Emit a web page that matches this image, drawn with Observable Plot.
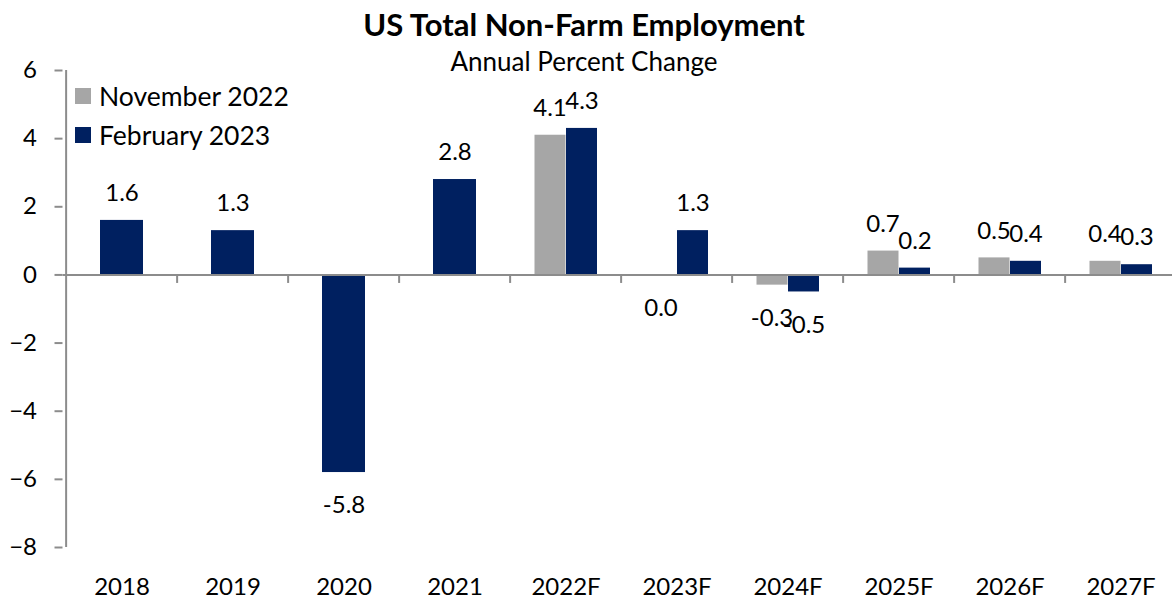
<!DOCTYPE html>
<html>
<head>
<meta charset="utf-8">
<script src="https://cdn.jsdelivr.net/npm/d3@7"></script>
<script src="https://cdn.jsdelivr.net/npm/@observablehq/plot@0.6"></script>
<style>
  html, body { margin: 0; padding: 0; background: #fff; overflow: hidden; }
  #wrap { position: relative; width: 1172px; height: 599px; font-family: Lato, "Open Sans", sans-serif; color: #000; }
  #title { position: absolute; left: 0; width: 1168px; top: 5px; text-align: center; font-weight: bold; font-size: 31px; line-height: 38px; }
  #subtitle { position: absolute; left: 0; width: 1168px; top: 45px; text-align: center; font-size: 26px; line-height: 32px; }
  #legend { position: absolute; left: 75px; top: 76px; font-size: 26.5px; }
  .item { display: flex; align-items: center; height: 39px; }
  .sw { width: 16px; height: 16px; margin-right: 8px; }
  #chart { position: absolute; left: 0; top: 0; }
</style>
</head>
<body>
<div id="wrap">
  <div id="chart"></div>
  <div id="title"></div>
  <div id="subtitle"></div>
  <div id="legend"></div>
</div>
<script>
const years = ["2018","2019","2020","2021","2022F","2023F","2024F","2025F","2026F","2027F"];
const nov2022 = [null, null, null, null, 4.1, 0.0, -0.3, 0.7, 0.5, 0.4];
const feb2023 = [1.6, 1.3, -5.8, 2.8, 4.3, 1.3, -0.5, 0.2, 0.4, 0.3];
const yTicks = [-8, -6, -4, -2, 0, 2, 4, 6];
const seriesNames = ["November 2022", "February 2023"];
const seriesColors = ["#A6A6A6", "#002060"];
const titleText = "US Total Non-Farm Employment";
const subtitleText = "Annual Percent Change";

document.getElementById("title").textContent = titleText;
document.getElementById("subtitle").textContent = subtitleText;
const legend = document.getElementById("legend");
seriesNames.forEach((n, i) => {
  const it = document.createElement("div"); it.className = "item";
  const sw = document.createElement("div"); sw.className = "sw"; sw.style.background = seriesColors[i];
  const tx = document.createElement("span"); tx.textContent = n;
  it.appendChild(sw); it.appendChild(tx); legend.appendChild(it);
});

const W = 1172, H = 599;
const xRange = [62.5, 1180];
const step = (xRange[1] - xRange[0]) / years.length;
const axisGray = "#8C8C8C";

const hist = years.map((y, i) => ({year: y, value: feb2023[i], nov: nov2022[i]})).filter(d => d.nov == null);
const novRows = years.map((y, i) => ({year: y, value: nov2022[i]})).filter(d => d.value != null);
const febRows = years.map((y, i) => ({year: y, value: feb2023[i], nov: nov2022[i]})).filter(d => d.nov != null);
const fmt = d => d.value.toFixed(1);

const labelMarks = (data, dx) => [
  Plot.text(data.filter(d => d.value > 0), {x: "year", y: "value", text: fmt, dx, dy: -27, fontSize: 24}),
  Plot.text(data.filter(d => d.value <= 0), {x: "year", y: "value", text: fmt, dx, dy: 33, fontSize: 24})
];

const chart = Plot.plot({
  width: W,
  height: H,
  marginLeft: 62.5,
  marginRight: 0,
  marginTop: 70,
  marginBottom: 52,
  style: {fontFamily: "Lato, 'Open Sans', sans-serif", fontSize: "24px", color: "#000", background: "transparent"},
  x: {domain: years, range: xRange, padding: 0, label: null},
  y: {domain: [-8, 6], label: null},
  marks: [
    Plot.barY(hist, {x: "year", y: "value", fill: seriesColors[1], insetLeft: 34, insetRight: 34}),
    Plot.barY(novRows, {x: "year", y: "value", fill: seriesColors[0], insetLeft: 24.5, insetRight: 55.5}),
    Plot.barY(febRows, {x: "year", y: "value", fill: seriesColors[1], insetLeft: 56, insetRight: 24}),
    Plot.ruleY([0], {stroke: axisGray, strokeWidth: 2}),
    Plot.ruleX(years.slice(1), {x: d => d, dx: -step / 2, y1: 0, y2: -0.25, stroke: axisGray, strokeWidth: 2}),
    Plot.ruleX([years[0]], {x: d => d, dx: -step / 2, y1: -8, y2: 6, stroke: axisGray, strokeWidth: 2}),
    Plot.axisY({ticks: yTicks, tickSize: 8, tickPadding: 18, stroke: axisGray, strokeWidth: 2, fontSize: 24, label: null}),
    Plot.axisX({tickSize: 0, tickPadding: 30, fontSize: 24, label: null}),
    ...labelMarks(hist, 0),
    ...labelMarks(novRows, -16),
    ...labelMarks(febRows, 16)
  ]
});
document.getElementById("chart").appendChild(chart);
</script>
</body>
</html>
